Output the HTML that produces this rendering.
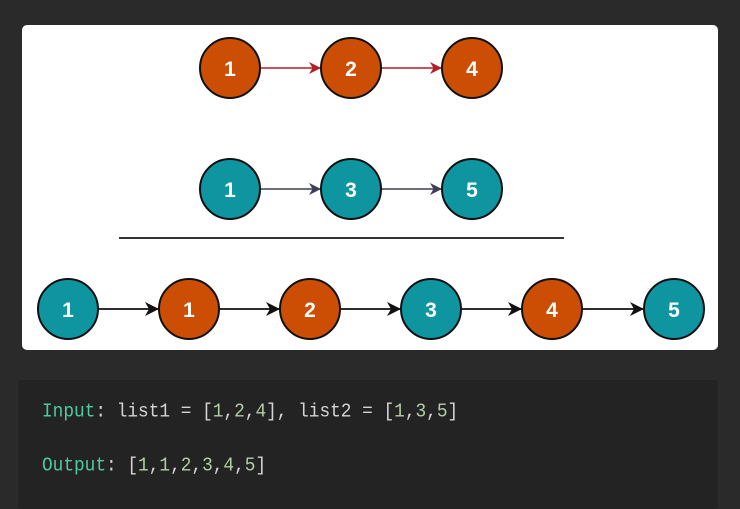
<!DOCTYPE html>
<html><head><meta charset="utf-8"><style>
html,body{margin:0;padding:0;background:#2a2a2a;width:740px;height:509px;overflow:hidden}
.code{position:absolute;left:18px;top:380px;width:700px;height:129px;background:#232323;border-radius:4px}
.t{position:absolute;left:42px;font-family:"Liberation Mono",monospace;font-size:17.8px;color:#d4d4d4;white-space:pre;line-height:20px;transform:scaleY(1.1);transform-origin:left center}
.k{color:#4ec9a0}.n{color:#b5cea8}
</style></head><body>
<svg width="740" height="509" style="position:absolute;left:0;top:0">
<defs>
<marker id="ar" markerWidth="12" markerHeight="12" refX="11" refY="6" orient="auto" markerUnits="userSpaceOnUse"><path d="M0,0 L12,6 L0,12 L3.5,6 z" fill="#b01f2a"/></marker>
<marker id="ag" markerWidth="12" markerHeight="12" refX="11" refY="6" orient="auto" markerUnits="userSpaceOnUse"><path d="M0,0 L12,6 L0,12 L3.5,6 z" fill="#3d3d55"/></marker>
<marker id="ab" markerWidth="14" markerHeight="14" refX="13" refY="7" orient="auto" markerUnits="userSpaceOnUse"><path d="M0,0 L14,7 L0,14 L4,7 z" fill="#111"/></marker>
</defs>
<rect x="22" y="25" width="696" height="325" rx="5" fill="#fff"/>
<g stroke-width="1.5">
<line x1="260" y1="68" x2="320" y2="68" stroke="#b01f2a" marker-end="url(#ar)"/>
<line x1="381" y1="68" x2="441" y2="68" stroke="#b01f2a" marker-end="url(#ar)"/>
<line x1="260" y1="189" x2="320" y2="189" stroke="#3d3d55" marker-end="url(#ag)"/>
<line x1="381" y1="189" x2="441" y2="189" stroke="#3d3d55" marker-end="url(#ag)"/>
</g>
<line x1="119" y1="238" x2="564" y2="238" stroke="#333" stroke-width="2"/>
<g stroke="#111" stroke-width="1.8">
<line x1="99" y1="309" x2="158" y2="309" marker-end="url(#ab)"/>
<line x1="220" y1="309" x2="279" y2="309" marker-end="url(#ab)"/>
<line x1="341" y1="309" x2="400" y2="309" marker-end="url(#ab)"/>
<line x1="462" y1="309" x2="521" y2="309" marker-end="url(#ab)"/>
<line x1="583" y1="309" x2="643" y2="309" marker-end="url(#ab)"/>
</g>
<g stroke="#111" stroke-width="2">
<circle cx="230" cy="68" r="30" fill="#cc4e04"/>
<circle cx="351" cy="68" r="30" fill="#cc4e04"/>
<circle cx="472" cy="68" r="30" fill="#cc4e04"/>
<circle cx="230" cy="189" r="30" fill="#0e95a0"/>
<circle cx="351" cy="189" r="30" fill="#0e95a0"/>
<circle cx="472" cy="189" r="30" fill="#0e95a0"/>
<circle cx="68" cy="309" r="30" fill="#0e95a0"/>
<circle cx="189" cy="309" r="30" fill="#cc4e04"/>
<circle cx="310" cy="309" r="30" fill="#cc4e04"/>
<circle cx="431" cy="309" r="30" fill="#0e95a0"/>
<circle cx="552" cy="309" r="30" fill="#cc4e04"/>
<circle cx="674" cy="309" r="30" fill="#0e95a0"/>
</g>
<g fill="#fff" font-family="Liberation Sans,sans-serif" font-weight="bold" font-size="21" text-anchor="middle">
<text x="230" y="76">1</text><text x="351" y="76">2</text><text x="472" y="76">4</text>
<text x="230" y="197">1</text><text x="351" y="197">3</text><text x="472" y="197">5</text>
<text x="68" y="317">1</text><text x="189" y="317">1</text><text x="310" y="317">2</text>
<text x="431" y="317">3</text><text x="552" y="317">4</text><text x="674" y="317">5</text>
</g>
</svg>
<div class="code"></div>
<div class="t" style="top:402px"><span class="k">Input</span>: list1 = [<span class="n">1</span>,<span class="n">2</span>,<span class="n">4</span>], list2 = [<span class="n">1</span>,<span class="n">3</span>,<span class="n">5</span>]</div>
<div class="t" style="top:456px"><span class="k">Output</span>: [<span class="n">1</span>,<span class="n">1</span>,<span class="n">2</span>,<span class="n">3</span>,<span class="n">4</span>,<span class="n">5</span>]</div>
</body></html>
